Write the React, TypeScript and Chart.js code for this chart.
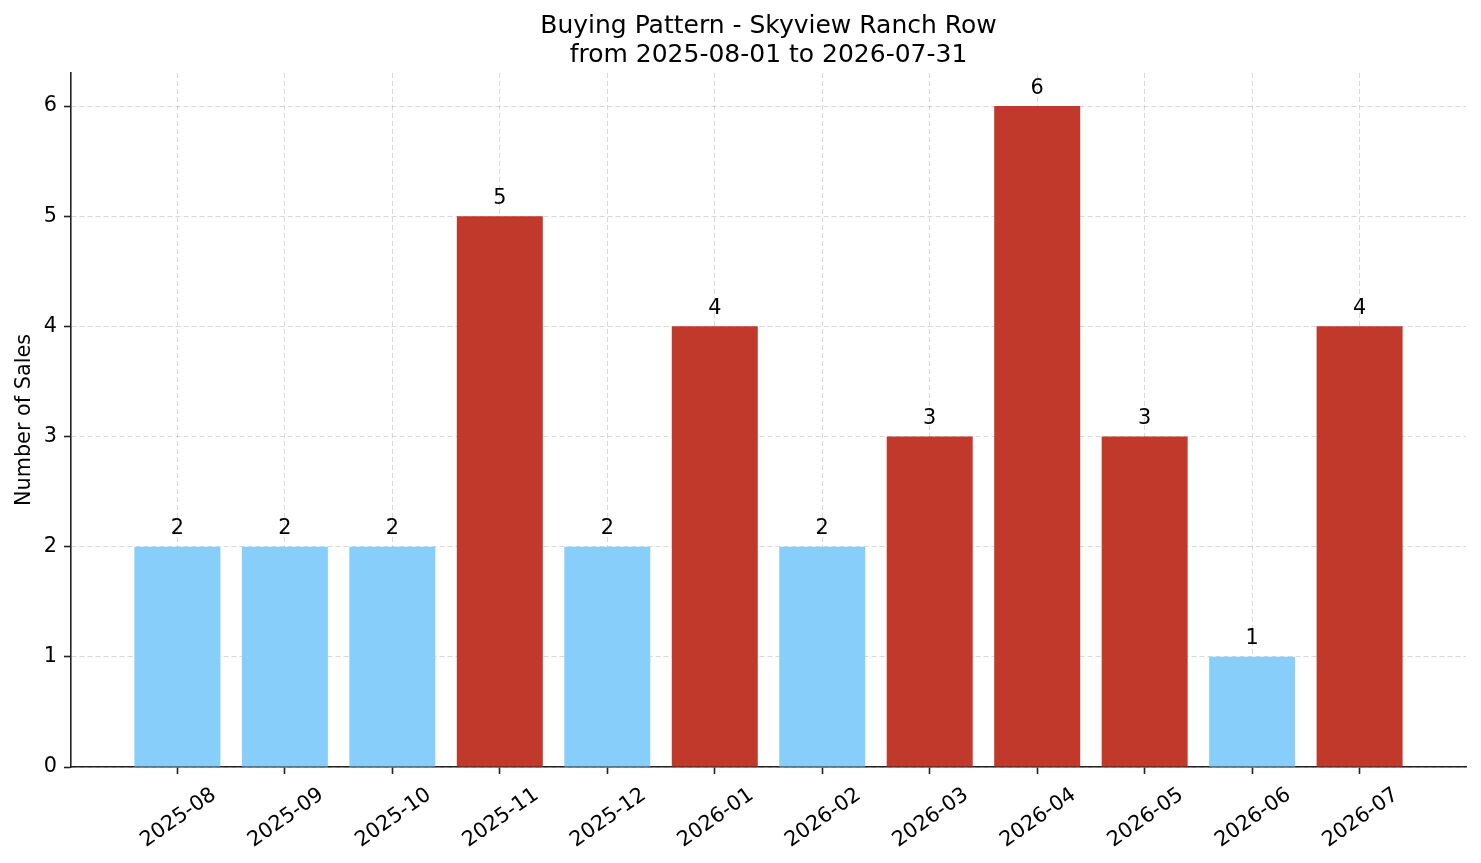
import { useEffect, useRef } from 'react';
import { Chart, registerables } from 'chart.js';

Chart.register(...registerables);

const months = [
    '2025-08', '2025-09', '2025-10', '2025-11', '2025-12', '2026-01',
    '2026-02', '2026-03', '2026-04', '2026-05', '2026-06', '2026-07',
];
const sales = [2, 2, 2, 5, 2, 4, 2, 3, 6, 3, 1, 4];
const yTicks = [0, 1, 2, 3, 4, 5, 6];
const titleLines = ['Buying Pattern - Skyview Ranch Row', 'from 2025-08-01 to 2026-07-31'];
const highThreshold = 3;

const FONT = '"DejaVu Sans", sans-serif';
const BLUE = '#87CEFA';
const RED = '#C0392B';
const AXIS = '#222222';
const GRID = 'rgba(160, 160, 160, 0.4)';
const TICK_SIZE = 20.8;

// title, bar values and rotated month labels (matplotlib style, centred under ticks)
const decorations = {
    id: 'decorations',
    afterDraw(chart: any) {
        const { ctx, chartArea, scales } = chart;
        const x = scales.x;
        const y = scales.y;
        ctx.save();
        ctx.fillStyle = '#000';
        ctx.textAlign = 'center';
        ctx.textBaseline = 'alphabetic';

        ctx.font = `25px ${FONT}`;
        const cx = (chartArea.left + chartArea.right) / 2;
        titleLines.forEach((t, i) => ctx.fillText(t, cx, 32.5 + i * 29.5));

        ctx.font = `${TICK_SIZE}px ${FONT}`;
        sales.forEach((v, i) => {
            ctx.fillText(String(v), x.getPixelForValue(i), y.getPixelForValue(v) - 12.5);
        });

        const ang = (35 * Math.PI) / 180;
        const top = chartArea.bottom + 14.6;
        months.forEach((m, i) => {
            const w = ctx.measureText(m).width;
            const h = TICK_SIZE * 1.164;
            const rh = w * Math.sin(ang) + h * Math.cos(ang);
            ctx.save();
            ctx.translate(x.getPixelForValue(i), top + rh / 2);
            ctx.rotate(-ang);
            ctx.fillText(m, 0, TICK_SIZE * 0.346);
            ctx.restore();
        });
        ctx.restore();
    },
};

const App = () => {
    const chartRef = useRef<HTMLCanvasElement | null>(null);

    useEffect(() => {
        const ctx = chartRef.current?.getContext('2d');
        if (!ctx) return;

        const myChart = new Chart(ctx, {
            type: 'bar',
            data: {
                datasets: [
                    {
                        label: 'Number of Sales',
                        data: sales.map((v, i) => ({ x: i, y: v })),
                        backgroundColor: sales.map((v) => (v >= highThreshold ? RED : BLUE)),
                        borderWidth: 0,
                        barPercentage: 0.8,
                        categoryPercentage: 1,
                    },
                ],
            },
            options: {
                responsive: true,
                maintainAspectRatio: false,
                animation: false,
                layout: { padding: { top: 73, right: 15, bottom: 0, left: 0 } },
                plugins: {
                    legend: { display: false },
                    title: { display: false },
                    tooltip: { enabled: false },
                },
                scales: {
                    x: {
                        type: 'linear',
                        min: -0.99,
                        max: 11.99,
                        offset: false,
                        z: 1,
                        afterBuildTicks: (scale: any) => {
                            scale.ticks = months.map((_, i) => ({ value: i }));
                        },
                        afterFit: (scale: any) => {
                            scale.height = 96;
                        },
                        ticks: { display: false },
                        grid: {
                            offset: false,
                            color: GRID,
                            lineWidth: 1,
                            drawTicks: true,
                            tickLength: 7,
                            tickColor: AXIS,
                            tickWidth: 1.6,
                            tickBorderDash: [],
                        },
                        border: { display: true, color: AXIS, width: 1.6, dash: [5, 3] },
                    },
                    y: {
                        min: 0,
                        max: 6.3,
                        z: 1,
                        afterBuildTicks: (scale: any) => {
                            scale.ticks = yTicks.map((v) => ({ value: v }));
                        },
                        afterFit: (scale: any) => {
                            scale.width = 71;
                        },
                        ticks: {
                            color: '#000',
                            padding: 7,
                            font: { family: FONT, size: TICK_SIZE },
                        },
                        grid: {
                            color: GRID,
                            lineWidth: 1,
                            drawTicks: true,
                            tickLength: 7,
                            tickColor: AXIS,
                            tickWidth: 1.6,
                            tickBorderDash: [],
                        },
                        border: { display: true, color: AXIS, width: 1.6, dash: [5, 3] },
                        title: {
                            display: true,
                            text: 'Number of Sales',
                            color: '#000',
                            font: { family: FONT, size: TICK_SIZE, lineHeight: 1.2 },
                            padding: { top: 12, bottom: 0 },
                        },
                    },
                },
            },
            plugins: [decorations],
        } as any);

        return () => {
            myChart.destroy();
        };
    }, []);

    return (
        <div style={{ position: 'absolute', left: 0, top: 0, width: 1481, height: 863, background: '#fff' }}>
            <canvas ref={chartRef} />
        </div>
    );
};

export default App;
